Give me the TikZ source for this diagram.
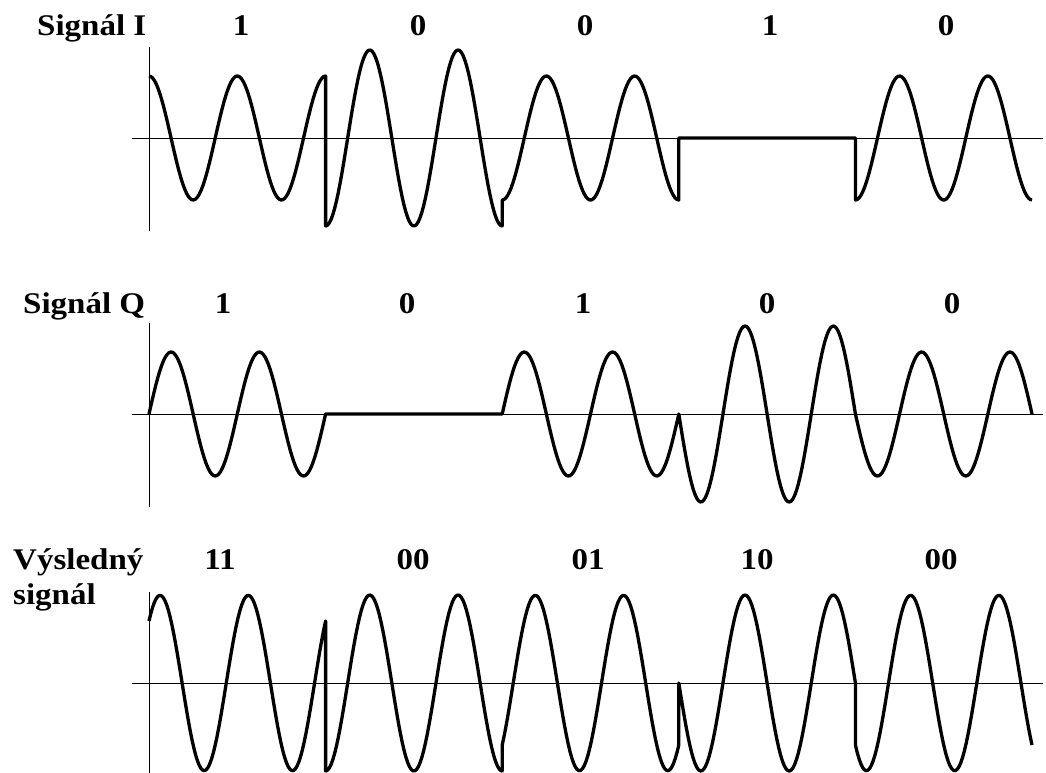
\documentclass[tikz,border=0pt]{standalone}
\usepackage{fontspec}
\setmainfont{Liberation Serif}[FakeStretch=1.1]
\usepackage{tikz}
\usetikzlibrary{positioning}

\begin{document}
\begin{tikzpicture}[
    x=1pt,y=-1pt,
    wave/.style={line width=3.3pt,line join=round},
    axis/.style={line width=1pt},
    bit/.style={font=\bfseries\fontsize{30}{32}\selectfont,inner sep=0pt,anchor=base},
    title/.style={bit,anchor=base west}
]
\useasboundingbox (0,0) rectangle (1046,773);

% signal I
\node[title] (tI) at (37,36) {Signál I};
\node[bit] (i1) at (241,36) {1};
\node[bit] (i2) at (418,36) {0};
\node[bit] (i3) at (585,36) {0};
\node[bit] (i4) at (770,36) {1};
\node[bit] (i5) at (946,36) {0};
\draw[axis] (149,47) -- (149,231);
\draw[axis] (132,138) -- (1043,138);
\draw[wave] (149,76) \foreach \a [count=\k from 0,
    evaluate=\k as \xa using 149+\k*176.6,
    evaluate=\k as \xb using 149+(\k+1)*176.6] in {62,-88,-62,0,-62} {
  -- plot[domain=\xa:\xb,samples=100] (\x,{138-\a*cos((\x-149)/88.3*360)})
};

% signal Q
\node[title] (tQ) at (23,313) {Signál Q};
\node[bit] (q1) at (223,313) {1};
\node[bit] (q2) at (407,313) {0};
\node[bit] (q3) at (583,313) {1};
\node[bit] (q4) at (767,313) {0};
\node[bit] (q5) at (952,313) {0};
\draw[axis] (149,323) -- (149,507);
\draw[axis] (132,414) -- (1043,414);
\draw[wave] (149,414) \foreach \a [count=\k from 0,
    evaluate=\k as \xa using 149+\k*176.6,
    evaluate=\k as \xb using 149+(\k+1)*176.6] in {62,0,62,-88,-62} {
  -- plot[domain=\xa:\xb,samples=100] (\x,{414-\a*sin((\x-149)/88.3*360)})
};

% resulting signal
\node[title] (tR) at (13,569) {Výsledný};
\node[title] (tR2) at (13,604) {signál};
\node[bit] (r1) at (220,569) {11};
\node[bit] (r2) at (413,569) {00};
\node[bit] (r3) at (588,569) {01};
\node[bit] (r4) at (757,569) {10};
\node[bit] (r5) at (941,569) {00};
\draw[axis] (149,592) -- (149,773);
\draw[axis] (132,683) -- (1043,683);
\draw[wave] (149,621) \foreach \a/\b [count=\k from 0,
    evaluate=\k as \xa using 149+\k*176.6,
    evaluate=\k as \xb using 149+(\k+1)*176.6] in {62/62,-88/0,-62/62,0/-88,-62/-62} {
  -- plot[domain=\xa:\xb,samples=100] (\x,{683-\a*cos((\x-149)/88.3*360)-\b*sin((\x-149)/88.3*360)})
};
\end{tikzpicture}
\end{document}
